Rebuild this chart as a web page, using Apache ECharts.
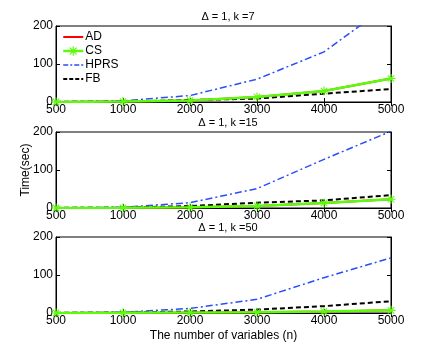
<!DOCTYPE html>
<html>
<head>
<meta charset="utf-8">
<script src="https://cdn.jsdelivr.net/npm/echarts@6/dist/echarts.min.js"></script>
<style>
  html, body { margin: 0; padding: 0; background: #fff; }
  #chart { width: 432px; height: 353px; }
</style>
</head>
<body>
<div id="chart"></div>
<script>
var nVars = ['500', '1000', '2000', '3000', '4000', '5000'];
var yTicks = [0, 100, 200];
var titles = ['Δ = 1, k =7', 'Δ = 1, k =15', 'Δ = 1, k =50'];

// one array per panel (k = 7, 15, 50)
var adK7 = [0.3, 1, 4, 13, 29, 62];
var csK7 = [0.3, 1, 4, 13, 29, 62];
var hprsK7 = [0.5, 3, 17, 60, 132, 260];
var fbK7 = [0.3, 1, 5, 9, 22, 34];

var adK15 = [0.2, 0.5, 2, 5, 13, 23];
var csK15 = [0.2, 0.5, 2, 5, 13, 23];
var hprsK15 = [0.5, 2, 14, 51, 128, 202];
var fbK15 = [0.3, 1, 5, 14, 20, 34];

var adK50 = [0.2, 0.4, 1, 2, 4, 7];
var csK50 = [0.2, 0.4, 1, 2, 4, 7];
var hprsK50 = [0.5, 2, 12, 36, 93, 145];
var fbK50 = [0.3, 1, 4, 9, 18, 31];

var panels = [
    { ad: adK7, cs: csK7, hprs: hprsK7, fb: fbK7 },
    { ad: adK15, cs: csK15, hprs: hprsK15, fb: fbK15 },
    { ad: adK50, cs: csK50, hprs: hprsK50, fb: fbK50 }
];

var font = 'Liberation Sans, Arial, sans-serif';
var green = '#5dfa0c';
var star = 'path://M-1.2,-10 L1.2,-10 L1.2,10 L-1.2,10 Z M-10,-1.2 L10,-1.2 L10,1.2 L-10,1.2 Z M-7.9,-6.2 L-6.2,-7.9 L7.9,6.2 L6.2,7.9 Z M-6.2,7.9 L-7.9,6.2 L6.2,-7.9 L7.9,-6.2 Z';
var tops = [26, 132, 237];

var grid = [], xAxis = [], yAxis = [], series = [], title = [];
for (var i = 0; i < 3; i++) {
    grid.push({ left: 56, right: 41, top: tops[i], height: 76, show: true, borderColor: '#000', borderWidth: 1, backgroundColor: '#fff' });
    title.push({ text: titles[i], left: 223, textAlign: 'center', top: tops[i] - 20,
        textStyle: { fontFamily: font, fontSize: 11, fontWeight: 'normal', color: '#000' } });
    xAxis.push({
        type: 'category', gridIndex: i, data: nVars, boundaryGap: false,
        axisLine: { lineStyle: { color: '#000' } },
        axisTick: { inside: true, length: 4, lineStyle: { color: '#000' } },
        axisLabel: { color: '#000', fontFamily: font, fontSize: 12, margin: 2 },
        name: i === 2 ? 'The number of variables (n)' : '',
        nameLocation: 'middle', nameGap: 17,
        nameTextStyle: { color: '#000', fontFamily: font, fontSize: 12 }
    });
    xAxis.push({
        type: 'category', gridIndex: i, data: nVars, boundaryGap: false, position: 'top',
        axisLine: { lineStyle: { color: '#000' } },
        axisTick: { inside: true, length: 4, lineStyle: { color: '#000' } },
        axisLabel: { show: false }
    });
    yAxis.push({
        type: 'value', gridIndex: i, min: yTicks[0], max: yTicks[2], interval: 100,
        splitLine: { show: false },
        axisLine: { show: true, lineStyle: { color: '#000' } },
        axisTick: { show: true, inside: true, length: 4, lineStyle: { color: '#000' } },
        axisLabel: { color: '#000', fontFamily: font, fontSize: 12, margin: 3 },
        name: i === 1 ? 'Time(sec)' : '',
        nameLocation: 'middle', nameGap: 24, nameRotate: 90, nameMoveOverlap: false,
        nameTextStyle: { color: '#000', fontFamily: font, fontSize: 12 }
    });
    yAxis.push({
        type: 'value', gridIndex: i, min: 0, max: 200, interval: 100, position: 'right',
        splitLine: { show: false },
        axisLine: { show: true, lineStyle: { color: '#000' } },
        axisTick: { show: true, inside: true, length: 4, lineStyle: { color: '#000' } },
        axisLabel: { show: false }
    });
    var p = panels[i];
    series.push({ name: 'AD', type: 'line', xAxisIndex: 2 * i, yAxisIndex: 2 * i, data: p.ad,
        symbol: 'none', color: '#ff0000', lineStyle: { color: '#ff0000', width: 2 } });
    series.push({ name: 'HPRS', type: 'line', xAxisIndex: 2 * i, yAxisIndex: 2 * i, data: p.hprs,
        symbol: 'none', color: '#2a4cff', lineStyle: { color: '#2a4cff', width: 1.5, type: [7, 3, 2, 3] } });
    series.push({ name: 'FB', type: 'line', xAxisIndex: 2 * i, yAxisIndex: 2 * i, data: p.fb,
        symbol: 'none', color: '#000', lineStyle: { color: '#000', width: 2, type: [5, 3] } });
    series.push({ name: 'CS', type: 'line', xAxisIndex: 2 * i, yAxisIndex: 2 * i, data: p.cs,
        symbol: star, symbolSize: 9, color: green, itemStyle: { color: green },
        lineStyle: { color: green, width: 2.5 } });
}

var chart = echarts.init(document.getElementById('chart'), null, { renderer: 'canvas' });
chart.setOption({
    animation: false,
    backgroundColor: '#fff',
    title: title,
    legend: {
        data: [
            { name: 'AD', itemStyle: { opacity: 0 }, lineStyle: { width: 2 } },
            { name: 'CS', lineStyle: { width: 2.5 } },
            { name: 'HPRS', itemStyle: { opacity: 0 }, lineStyle: { width: 1.5, type: [5, 2, 2, 2] } },
            { name: 'FB', itemStyle: { opacity: 0 }, lineStyle: { width: 2, type: [4, 2] } }
        ],
        orient: 'vertical', left: 62, top: 31, itemGap: 2, itemWidth: 20, itemHeight: 12,
        textStyle: { fontFamily: font, fontSize: 12, color: '#000', padding: [0, 0, 0, -3] },
        padding: 0
    },
    grid: grid,
    xAxis: xAxis,
    yAxis: yAxis,
    series: series
});
</script>
</body>
</html>
